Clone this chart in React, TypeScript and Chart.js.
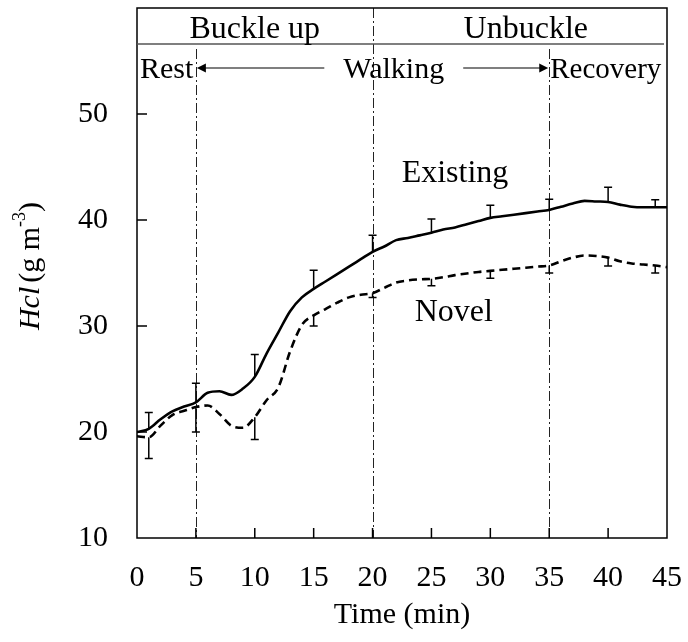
import React, { useEffect, useRef } from 'react';
import { Chart, registerables } from 'chart.js';

Chart.register(...registerables);

// Sampling times (min) for both humidity curves
const minutes = [
  0, 1, 2, 3, 4, 5, 6, 7, 8, 9, 10, 11, 12, 13, 14, 15, 16, 17, 18, 19, 20, 21, 22,
  23, 24, 25, 26, 27, 28, 29, 30, 31, 32, 33, 34, 35, 36, 37, 38, 39, 40, 41, 42, 43,
  44, 45,
];

// Hcl (g m-3) — existing design
const existing = [
  20.0, 20.3, 21.2, 21.95, 22.4, 22.8, 23.7, 23.85, 23.5, 24.1, 25.2, 27.4, 29.4, 31.4,
  32.7, 33.5, 34.2, 34.9, 35.6, 36.3, 37.0, 37.5, 38.1, 38.3, 38.55, 38.8, 39.1, 39.3,
  39.6, 39.9, 40.2, 40.35, 40.5, 40.65, 40.8, 40.95, 41.25, 41.55, 41.8, 41.75, 41.7,
  41.45, 41.25, 41.2, 41.2, 41.2,
];

// Hcl (g m-3) — novel design
const novel = [
  19.6, 19.5, 20.6, 21.6, 22.0, 22.35, 22.5, 21.7, 20.6, 20.4, 21.4, 23.0, 24.2, 27.6,
  30.1, 31.0, 31.6, 32.2, 32.7, 32.95, 33.1, 33.6, 34.1, 34.3, 34.4, 34.45, 34.6, 34.8,
  34.95, 35.1, 35.2, 35.3, 35.4, 35.5, 35.6, 35.7, 36.1, 36.45, 36.65, 36.6, 36.45, 36.1,
  35.9, 35.8, 35.7, 35.55,
];

// Error bars: existing shows the upper limit, novel the lower limit
const barTimes = [1, 5, 10, 15, 20, 25, 30, 35, 40, 44];
const existingUpper = [21.85, 24.6, 27.3, 35.25, 38.55, 40.1, 41.4, 41.95, 43.1, 41.9];
const novelLower = [17.5, 20.0, 19.3, 30.0, 32.7, 33.8, 34.5, 35.0, 35.65, 35.0];

// Phase boundaries (min)
const phaseLines = [5, 20, 35];
const yTickValues = [20, 30, 40, 50];

const SERIF = '"Liberation Serif", "Times New Roman", serif';

const overlayPlugin = {
  id: 'overlay',
  beforeDatasetsDraw(chart: any) {
    const { ctx, chartArea: a, scales } = chart;
    const x = scales.x;
    ctx.save();
    // dash-dot phase boundaries
    ctx.strokeStyle = '#222';
    ctx.lineWidth = 1;
    ctx.setLineDash([10, 3, 2, 3]);
    phaseLines.forEach((t) => {
      const px = Math.round(x.getPixelForValue(t)) + 0.5;
      const top = t === 20 ? a.top : a.top + 41;
      ctx.beginPath();
      ctx.moveTo(px, top);
      ctx.lineTo(px, a.bottom);
      ctx.stroke();
    });
    ctx.setLineDash([]);
    ctx.restore();
  },
  afterDraw(chart: any) {
    const { ctx, chartArea: a, scales } = chart;
    const x = scales.x;
    const y = scales.y;
    ctx.save();

    // error bars
    ctx.strokeStyle = '#000';
    ctx.lineWidth = 1.5;
    const cap = 4;
    barTimes.forEach((t, i) => {
      const idx = minutes.indexOf(t);
      const px = x.getPixelForValue(t);
      const e0 = y.getPixelForValue(existing[idx]);
      const e1 = y.getPixelForValue(existingUpper[i]);
      const n0 = y.getPixelForValue(novel[idx]);
      const n1 = y.getPixelForValue(novelLower[i]);
      ctx.beginPath();
      ctx.moveTo(px, e0);
      ctx.lineTo(px, e1);
      ctx.moveTo(px - cap, e1);
      ctx.lineTo(px + cap, e1);
      ctx.moveTo(px, n0);
      ctx.lineTo(px, n1);
      ctx.moveTo(px - cap, n1);
      ctx.lineTo(px + cap, n1);
      ctx.stroke();
    });

    // plot frame
    ctx.lineWidth = 1.5;
    ctx.strokeStyle = '#000';
    ctx.strokeRect(a.left, a.top, a.right - a.left, a.bottom - a.top);

    // inward tick marks
    ctx.beginPath();
    for (let t = 5; t < 45; t += 5) {
      const px = x.getPixelForValue(t);
      ctx.moveTo(px, a.bottom);
      ctx.lineTo(px, a.bottom - 10);
    }
    yTickValues.forEach((v) => {
      const py = y.getPixelForValue(v);
      ctx.moveTo(a.left, py);
      ctx.lineTo(a.left + 10, py);
    });
    ctx.stroke();

    // separator under the buckle row
    ctx.strokeStyle = '#555';
    ctx.lineWidth = 1.5;
    ctx.beginPath();
    ctx.moveTo(a.left, a.top + 36);
    ctx.lineTo(a.right - 3, a.top + 36);
    ctx.stroke();

    ctx.fillStyle = '#000';
    ctx.textBaseline = 'alphabetic';

    // buckle row
    ctx.font = `32px ${SERIF}`;
    ctx.textAlign = 'center';
    ctx.fillText('Buckle up', (x.getPixelForValue(0) + x.getPixelForValue(20)) / 2, a.top + 30);
    ctx.fillText('Unbuckle', (x.getPixelForValue(20) + x.getPixelForValue(45)) / 2 + 6, a.top + 30);

    // activity row
    ctx.font = `30px ${SERIF}`;
    const rowBase = a.top + 70;
    const arrowY = a.top + 60;
    ctx.textAlign = 'left';
    ctx.fillText('Rest', a.left + 3, rowBase);
    ctx.font = `29px ${SERIF}`;
    ctx.fillText('Recovery', x.getPixelForValue(35) + 1, rowBase);
    ctx.font = `30px ${SERIF}`;
    ctx.textAlign = 'center';
    const walkX = x.getPixelForValue(21.8);
    ctx.fillText('Walking', walkX, rowBase);
    const walkHalf = ctx.measureText('Walking').width / 2;

    const x5 = x.getPixelForValue(5);
    const x35 = x.getPixelForValue(35);
    ctx.strokeStyle = '#555';
    ctx.lineWidth = 1.5;
    ctx.beginPath();
    ctx.moveTo(x5 + 9, arrowY);
    ctx.lineTo(walkX - walkHalf - 19, arrowY);
    ctx.moveTo(walkX + walkHalf + 19, arrowY);
    ctx.lineTo(x35 - 9, arrowY);
    ctx.stroke();
    ctx.fillStyle = '#000';
    ctx.beginPath();
    ctx.moveTo(x5 + 1, arrowY);
    ctx.lineTo(x5 + 10, arrowY - 4.5);
    ctx.lineTo(x5 + 10, arrowY + 4.5);
    ctx.closePath();
    ctx.fill();
    ctx.beginPath();
    ctx.moveTo(x35 - 1, arrowY);
    ctx.lineTo(x35 - 10, arrowY - 4.5);
    ctx.lineTo(x35 - 10, arrowY + 4.5);
    ctx.closePath();
    ctx.fill();

    // curve labels
    ctx.font = `32px ${SERIF}`;
    ctx.textAlign = 'center';
    ctx.fillText('Existing', x.getPixelForValue(27.0), y.getPixelForValue(43.6));
    ctx.fillText('Novel', x.getPixelForValue(26.9), y.getPixelForValue(30.5));

    // y-axis title: Hcl (g m-3)
    const parts = [
      { t: 'Hcl', f: `italic 30px ${SERIF}`, dy: 0, gap: 4 },
      { t: '(g m', f: `30px ${SERIF}`, dy: 0, gap: 0 },
      { t: '-3', f: `18px ${SERIF}`, dy: -11, gap: 0 },
      { t: ')', f: `30px ${SERIF}`, dy: 0, gap: 0 },
    ];
    let total = 0;
    const widths = parts.map((p) => {
      ctx.font = p.f;
      const w = ctx.measureText(p.t).width + p.gap;
      total += w;
      return w;
    });
    ctx.translate(31, 266);
    ctx.rotate(-Math.PI / 2);
    ctx.textAlign = 'left';
    ctx.textBaseline = 'middle';
    let cx = -total / 2;
    parts.forEach((p, i) => {
      ctx.font = p.f;
      ctx.fillText(p.t, cx, p.dy);
      cx += widths[i];
    });

    ctx.restore();
  },
};

export default function App() {
  const canvasRef = useRef<HTMLCanvasElement | null>(null);

  useEffect(() => {
    if (!canvasRef.current) return;
    const chart = new Chart(canvasRef.current, {
      type: 'line',
      data: {
        datasets: [
          {
            label: 'Existing',
            data: minutes.map((t, i) => ({ x: t, y: existing[i] })),
            borderColor: '#000',
            borderWidth: 2.6,
            pointRadius: 0,
            cubicInterpolationMode: 'monotone',
            fill: false,
          },
          {
            label: 'Novel',
            data: minutes.map((t, i) => ({ x: t, y: novel[i] })),
            borderColor: '#000',
            borderWidth: 2.6,
            borderDash: [8, 5],
            pointRadius: 0,
            cubicInterpolationMode: 'monotone',
            fill: false,
          },
        ],
      },
      options: {
        animation: false,
        responsive: false,
        events: [],
        layout: { padding: { top: 8, right: 21, left: 0, bottom: 0 } },
        plugins: {
          legend: { display: false },
          tooltip: { enabled: false },
        },
        scales: {
          x: {
            type: 'linear',
            min: 0,
            max: 45,
            grid: { display: false, drawTicks: false },
            border: { display: false },
            ticks: {
              stepSize: 5,
              autoSkip: false,
              maxRotation: 0,
              padding: 22,
              color: '#000',
              font: { family: SERIF, size: 30 },
            },
            title: {
              display: true,
              text: 'Time (min)',
              color: '#000',
              font: { family: SERIF, size: 30 },
              padding: { top: 0, bottom: 9 },
            },
            afterFit: (scale: any) => {
              scale.height = 104;
              scale.paddingLeft = 0;
              scale.paddingRight = 0;
              scale.paddingTop = 0;
              scale.paddingBottom = 0;
            },
          },
          y: {
            type: 'linear',
            min: 10,
            max: 60,
            grid: { display: false, drawTicks: false },
            border: { display: false },
            ticks: {
              stepSize: 10,
              padding: 29,
              color: '#000',
              font: { family: SERIF, size: 30 },
              callback: (v: any) => (v >= 60 ? null : String(v)),
            },
            afterFit: (scale: any) => {
              scale.width = 137;
              scale.paddingLeft = 0;
              scale.paddingRight = 0;
              scale.paddingTop = 0;
              scale.paddingBottom = 0;
            },
          },
        },
      },
      plugins: [overlayPlugin],
    } as any);
    return () => chart.destroy();
  }, []);

  return (
    <div style={{ position: 'fixed', left: 0, top: 0, width: 688, height: 642, background: '#fff' }}>
      <canvas ref={canvasRef} width={688} height={642} />
    </div>
  );
}
